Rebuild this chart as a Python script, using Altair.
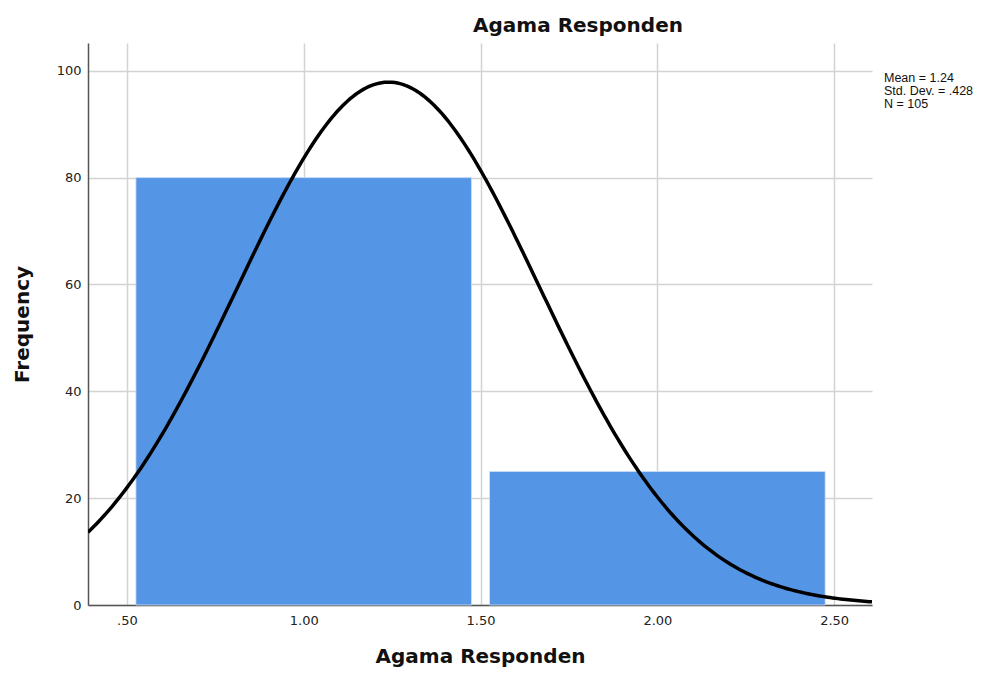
import altair as alt
import pandas as pd
import numpy as np

# Histogram data
bin_start = [0.5, 1.5]
bin_end = [1.5, 2.5]
counts = [80, 25]

# Reported statistics
mean = 1.24
sd = 0.428
n = 105
bin_width = 1.0

x_min, x_max = 0.39, 2.607
y_min, y_max = 0, 105.2

bars = pd.DataFrame({"start": bin_start, "end": bin_end, "count": counts})

xs = np.linspace(x_min, x_max, 300)
ys = n * bin_width / (sd * np.sqrt(2 * np.pi)) * np.exp(-0.5 * ((xs - mean) / sd) ** 2)
curve = pd.DataFrame({"x": xs, "y": ys})

stats = pd.DataFrame({"t": [f"Mean = {mean:.2f}\nStd. Dev. = .{int(round(sd*1000))}\nN = {n}"]})

W, H = 784, 562
FONT = "DejaVu Sans"

xscale = alt.Scale(domain=[x_min, x_max], nice=False, zero=False)
yscale = alt.Scale(domain=[y_min, y_max], nice=False)

xaxis = alt.Axis(
    title="Agama Responden",
    values=[0.5, 1.0, 1.5, 2.0, 2.5],
    format=".2f",
    labelExpr="replace(datum.label, /^0/, '')",
    ticks=False, domain=True, domainColor="#555555", domainWidth=1.5,
    grid=True, gridColor="#d3d3d3", gridWidth=1.5,
    labelFont=FONT, labelFontSize=13, labelColor="#222222", labelPadding=9,
    titleFont=FONT, titleFontSize=20, titleFontWeight="bold", titleColor="#111111",
    titlePadding=19,
)
yaxis = alt.Axis(
    title="Frequency",
    values=[0, 20, 40, 60, 80, 100],
    ticks=False, domain=True, domainColor="#555555", domainWidth=1.5,
    grid=True, gridColor="#d3d3d3", gridWidth=1.5,
    labelFont=FONT, labelFontSize=13, labelColor="#222222", labelPadding=7,
    titleFont=FONT, titleFontSize=20, titleFontWeight="bold", titleColor="#111111",
    titlePadding=24,
)

bar_layer = alt.Chart(bars).mark_rect(
    color="#5595E5", stroke="#cfe0f7", strokeWidth=0.8, xOffset=9, x2Offset=-9
).encode(
    x=alt.X("start:Q", scale=xscale, axis=xaxis),
    x2="end:Q",
    y=alt.Y("count:Q", scale=yscale, axis=yaxis),
    y2=alt.datum(0),
)

curve_layer = alt.Chart(curve).mark_line(color="black", strokeWidth=3.5, clip=True).encode(
    x=alt.X("x:Q", scale=xscale),
    y=alt.Y("y:Q", scale=yscale),
)

stats_layer = alt.Chart(stats).mark_text(
    align="left", baseline="top", font="Liberation Sans", fontSize=12.5, color="#111111",
    lineBreak="\n", lineHeight=13,
).encode(
    text="t:N",
    x=alt.value(W + 12),
    y=alt.value(29),
)

chart = alt.layer(bar_layer, curve_layer, stats_layer).properties(
    width=W, height=H,
    title=alt.TitleParams(
        "Agama Responden", font=FONT, fontSize=20, fontWeight="bold",
        color="#111111", anchor="middle", dx=98, offset=7,
    ),
    autosize=alt.AutoSizeParams(type="none"),
    padding={"left": 80, "top": 35, "right": 126, "bottom": 65},
).configure_view(stroke=None)

chart.save("out.html", embed_options={"renderer": "svg", "actions": False})
